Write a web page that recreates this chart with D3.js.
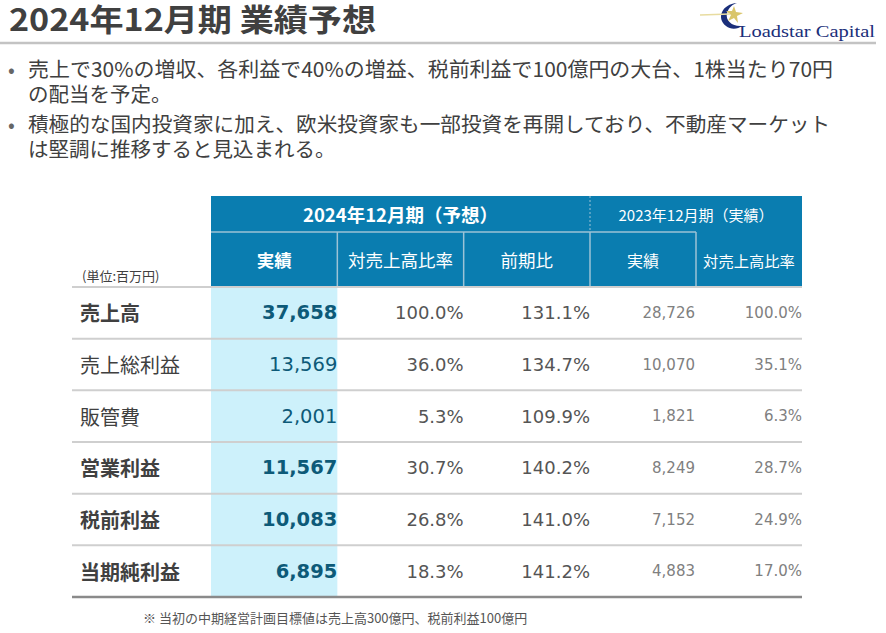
<!DOCTYPE html>
<html><head><meta charset="utf-8">
<script src="https://cdn.jsdelivr.net/npm/d3@7"></script>
<style>
html,body{margin:0;padding:0;background:#fff;}
svg{display:block;}
</style></head>
<body>
<svg id="chart" width="886" height="633"></svg>
<script>
// ---------- data ----------
const title = "2024年12月期 業績予想";
const bullets = [
  ["売上で30%の増収、各利益で40%の増益、税前利益で100億円の大台、1株当たり70円", "の配当を予定。"],
  ["積極的な国内投資家に加え、欧米投資家も一部投資を再開しており、不動産マーケット", "は堅調に推移すると見込まれる。"]
];
const groupHeaders = ["2024年12月期（予想）", "2023年12月期（実績）"];
const forecastCols = ["実績", "対売上高比率", "前期比"];
const prevCols = ["実績", "対売上高比率"];
const unitLabel = "(単位:百万円)";
const rowLabels = ["売上高", "売上総利益", "販管費", "営業利益", "税前利益", "当期純利益"];
const boldRows = [true, false, false, true, true, true];
const forecast = [37658, 13569, 2001, 11567, 10083, 6895];
const forecastRatio = [100.0, 36.0, 5.3, 30.7, 26.8, 18.3];
const yoy = [131.1, 134.7, 109.9, 140.2, 141.0, 141.2];
const prevActual = [28726, 10070, 1821, 8249, 7152, 4883];
const prevRatio = [100.0, 35.1, 6.3, 28.7, 24.9, 17.0];
const footnote = "※ 当初の中期経営計画目標値は売上高300億円、税前利益100億円";

// ---------- layout ----------
const svg = d3.select("#chart");
const JP = "'Noto Sans CJK JP', sans-serif";
const NUM = "'DejaVu Sans', 'Noto Sans CJK JP', sans-serif";
const BLUE = "#0a7db0";
const TEAL = "#0d5a78";

const tableLeft = 72, tableRight = 802;
const y = d3.scaleBand().domain(rowLabels).range([287, 597]).padding(0);
const xF = d3.scaleBand().domain(forecastCols).range([211, 590]).padding(0);
const xP = d3.scaleBand().domain(prevCols).range([590, 802]).padding(0);
const hTop = 196, hMid = 232, hBot = 287;

const fmtInt = d3.format(",");
const fmtPct = v => d3.format(".1f")(v) + "%";

// Title
svg.append("text").attr("x", 9).attr("y", 31)
  .attr("font-family", JP).attr("font-weight", "bold").attr("font-size", 31)
  .attr("textLength", 367).attr("lengthAdjust", "spacingAndGlyphs")
  .attr("fill", "#404040").text(title);
svg.append("line").attr("x1", 0).attr("x2", 876).attr("y1", 43).attr("y2", 43)
  .attr("stroke", "#c3c3c3").attr("stroke-width", 2.5);

// Logo
const logo = svg.append("g");
logo.append("path")
  .attr("d", "M737,3 C722,4 716,18 726,26 C731,30 738,29 742,26 C733,27 725,21 727,13 C729,7 733,4 737,3 Z")
  .attr("fill", "#1b2f7a");
logo.append("path")
  .attr("d", "M734,6 L736,12 L743,13 L737,16 L738,23 L734,18 L728,21 L731,15 L726,11 L732,11 Z")
  .attr("fill", "#d9c56a");
logo.append("line").attr("x1", 700).attr("x2", 730).attr("y1", 15).attr("y2", 14)
  .attr("stroke", "#e8dca0").attr("stroke-width", 1.5);
logo.append("text").attr("x", 739).attr("y", 37)
  .attr("font-family", "'Liberation Serif', serif").attr("font-size", 17)
  .attr("fill", "#1b2f7a").attr("textLength", 136).attr("lengthAdjust", "spacingAndGlyphs")
  .text("Loadstar Capital");

// Bullets
const bulletY = [[77, 102], [132, 157]];
const firstLineLen = [805, 802];
bullets.forEach((lines, i) => {
  svg.append("text").attr("x", 8).attr("y", bulletY[i][0])
    .attr("font-family", JP).attr("font-size", 20).attr("fill", "#666").text("•");
  lines.forEach((ln, j) => {
    const t = svg.append("text").attr("x", 28).attr("y", bulletY[i][j])
      .attr("font-family", JP).attr("font-size", 20.5).attr("fill", "#404040").text(ln);
    if (j === 0) t.attr("textLength", firstLineLen[i]).attr("lengthAdjust", "spacingAndGlyphs");
  });
});

// Light-blue column background
svg.append("rect").attr("x", xF(forecastCols[0])).attr("y", y.range()[0])
  .attr("width", xF.bandwidth()).attr("height", y.range()[1] - y.range()[0])
  .attr("fill", "#cdf1fb");

// Header background
svg.append("rect").attr("x", xF.range()[0]).attr("y", hTop)
  .attr("width", xP.range()[1] - xF.range()[0]).attr("height", hBot - hTop)
  .attr("fill", BLUE);

// Header lines
svg.append("line").attr("x1", xF.range()[0]).attr("x2", xP(prevCols[1]))
  .attr("y1", hMid).attr("y2", hMid).attr("stroke", "#9cc3d6").attr("stroke-width", 1.5);
svg.append("line").attr("x1", 590).attr("x2", 590).attr("y1", hTop).attr("y2", hMid)
  .attr("stroke", "#9cc3d6").attr("stroke-width", 1).attr("stroke-dasharray", "2,2");
const sepX = forecastCols.slice(1).map(c => xF(c)).concat(prevCols.map(c => xP(c)));
svg.selectAll("line.vsep").data(sepX).enter().append("line").attr("class", "vsep")
  .attr("x1", d => d).attr("x2", d => d).attr("y1", hMid).attr("y2", hBot)
  .attr("stroke", "#9cc3d6").attr("stroke-width", 1.5);

// Group headers
svg.append("text").attr("x", (xF.range()[0] + xF.range()[1]) / 2).attr("y", (hTop + hMid) / 2)
  .attr("text-anchor", "middle").attr("dominant-baseline", "central")
  .attr("font-family", JP).attr("font-weight", "bold").attr("font-size", 18.5)
  .attr("fill", "#fff").text(groupHeaders[0]);
svg.append("text").attr("x", (xP.range()[0] + xP.range()[1]) / 2).attr("y", (hTop + hMid) / 2)
  .attr("text-anchor", "middle").attr("dominant-baseline", "central")
  .attr("font-family", JP).attr("font-size", 15)
  .attr("fill", "#fff").text(groupHeaders[1]);

// Sub headers
svg.selectAll("text.fh").data(forecastCols).enter().append("text").attr("class", "fh")
  .attr("x", d => xF(d) + xF.bandwidth() / 2).attr("y", (hMid + hBot) / 2)
  .attr("text-anchor", "middle").attr("dominant-baseline", "central")
  .attr("font-family", JP).attr("font-size", 17.5)
  .attr("font-weight", (d, i) => i === 0 ? "bold" : "normal")
  .attr("fill", "#fff").text(d => d);
svg.selectAll("text.ph").data(prevCols).enter().append("text").attr("class", "ph")
  .attr("x", d => xP(d) + xP.bandwidth() / 2).attr("y", (hMid + hBot) / 2)
  .attr("text-anchor", "middle").attr("dominant-baseline", "central")
  .attr("font-family", JP).attr("font-size", (d, i) => i === 0 ? 16 : 15.3)
  .attr("fill", "#fff").text(d => d);

// Unit label
svg.append("text").attr("x", 82).attr("y", 275).attr("dominant-baseline", "central")
  .attr("font-family", JP).attr("font-size", 13).attr("fill", "#404040").text(unitLabel);

// Row lines
const lineYs = rowLabels.map(r => y(r));
svg.selectAll("line.row").data(lineYs).enter().append("line").attr("class", "row")
  .attr("x1", tableLeft).attr("x2", tableRight).attr("y1", d => d).attr("y2", d => d)
  .attr("stroke", "#cfcfcf").attr("stroke-width", 2);
svg.append("line").attr("x1", tableLeft).attr("x2", tableRight)
  .attr("y1", y.range()[1]).attr("y2", y.range()[1])
  .attr("stroke", "#8a8a8a").attr("stroke-width", 2.5);

// Cells
const rows = svg.selectAll("g.r").data(rowLabels).enter().append("g").attr("class", "r")
  .attr("transform", d => `translate(0,${y(d) + y.bandwidth() / 2})`);

rows.append("text").attr("x", 80).attr("dominant-baseline", "central")
  .attr("font-family", JP).attr("font-size", 20)
  .attr("font-weight", (d, i) => boldRows[i] ? "bold" : "normal")
  .attr("fill", "#404040").text(d => d);

rows.append("text").attr("x", xF(forecastCols[0]) + xF.bandwidth())
  .attr("text-anchor", "end").attr("dominant-baseline", "central")
  .attr("font-family", NUM).attr("font-size", 19.5)
  .attr("font-weight", (d, i) => boldRows[i] ? "bold" : "normal")
  .attr("fill", TEAL).text((d, i) => fmtInt(forecast[i]));

rows.append("text").attr("x", xF(forecastCols[1]) + xF.bandwidth())
  .attr("text-anchor", "end").attr("dominant-baseline", "central")
  .attr("font-family", NUM).attr("font-size", 18)
  .attr("fill", "#555").text((d, i) => fmtPct(forecastRatio[i]));

rows.append("text").attr("x", xF(forecastCols[2]) + xF.bandwidth())
  .attr("text-anchor", "end").attr("dominant-baseline", "central")
  .attr("font-family", NUM).attr("font-size", 18)
  .attr("fill", "#555").text((d, i) => fmtPct(yoy[i]));

rows.append("text").attr("x", xP(prevCols[0]) + xP.bandwidth() - 1)
  .attr("text-anchor", "end").attr("dominant-baseline", "central")
  .attr("font-family", NUM).attr("font-size", 15)
  .attr("fill", "#808080").text((d, i) => fmtInt(prevActual[i]));

rows.append("text").attr("x", xP(prevCols[1]) + xP.bandwidth())
  .attr("text-anchor", "end").attr("dominant-baseline", "central")
  .attr("font-family", NUM).attr("font-size", 15)
  .attr("fill", "#808080").text((d, i) => fmtPct(prevRatio[i]));

// Footnote
svg.append("text").attr("x", 143).attr("y", 617).attr("dominant-baseline", "central")
  .attr("font-family", JP).attr("font-size", 13).attr("fill", "#555").text(footnote);
</script>
</body></html>
